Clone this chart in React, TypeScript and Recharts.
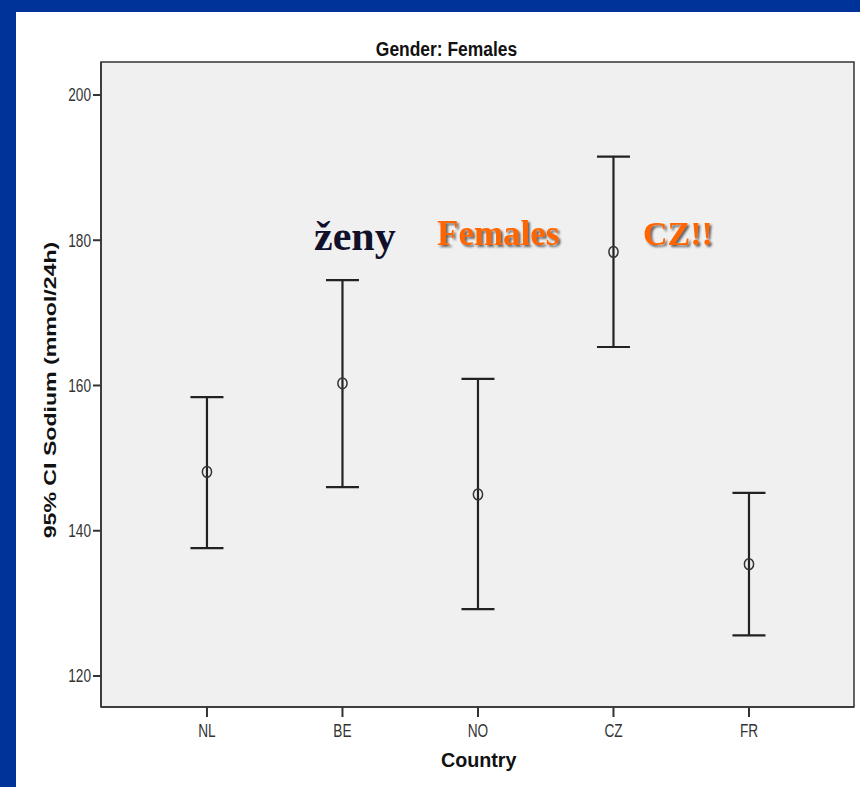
import React from 'react'
import {
  ComposedChart,
  Scatter,
  ErrorBar,
  XAxis,
  YAxis,
  ReferenceArea,
} from 'recharts'

const COUNTRIES = ['NL', 'BE', 'NO', 'CZ', 'FR']
const MEAN = [148.1, 160.3, 145.0, 178.4, 135.4]
const LOWER = [137.6, 146.0, 129.2, 165.3, 125.6]
const UPPER = [158.4, 174.5, 160.9, 191.5, 145.2]
const Y_TICKS = [120, 140, 160, 180, 200]

const X_DOMAIN: [number, number] = [-0.782, 4.775]
const Y_DOMAIN: [number, number] = [115.73, 204.54]

const data = COUNTRIES.map((name, i) => ({
  x: i,
  name,
  mean: MEAN[i],
  err: [MEAN[i] - LOWER[i], UPPER[i] - MEAN[i]],
}))

const SANS = '"Liberation Sans", Arial, sans-serif'
const SERIF = '"Liberation Serif", "Times New Roman", serif'

function YTick({ x, y, payload }: any) {
  return (
    <g transform={`translate(${x},${y})`}>
      <text
        x={0}
        y={0}
        dy={6.4}
        textAnchor="end"
        transform="scale(0.78,1)"
        fontFamily={SANS}
        fontSize={17.5}
        fill="#333"
      >
        {payload.value}
      </text>
    </g>
  )
}

function XTick({ x, y, payload }: any) {
  return (
    <g transform={`translate(${x},${y})`}>
      <text
        x={0}
        y={0}
        dy={17.7}
        textAnchor="middle"
        transform="scale(0.78,1)"
        fontFamily={SANS}
        fontSize={17.5}
        fill="#333"
      >
        {COUNTRIES[payload.value] ?? ''}
      </text>
    </g>
  )
}

function MeanDot({ cx, cy }: any) {
  return <ellipse cx={cx} cy={cy} rx={4.6} ry={5.4} fill="none" stroke="#333" strokeWidth={1.5} />
}

export default function App() {
  return (
    <div
      style={{
        position: 'absolute',
        left: 0,
        top: 0,
        width: 860,
        height: 787,
        background: '#003399',
        overflow: 'hidden',
      }}
    >
      <div
        style={{
          position: 'absolute',
          left: 16,
          top: 12,
          width: 844,
          height: 775,
          background: '#ffffff',
        }}
      />
      <div style={{ position: 'absolute', left: 0, top: 0 }}>
        <ComposedChart
          width={860}
          height={787}
          data={data}
          margin={{ top: 62, right: 6, bottom: 20, left: 16 }}
        >
          <ReferenceArea
            x1={X_DOMAIN[0]}
            x2={X_DOMAIN[1]}
            y1={Y_DOMAIN[0]}
            y2={Y_DOMAIN[1]}
            fill="#f0f0f0"
            fillOpacity={1}
            stroke="#333"
            strokeWidth={1.5}
            ifOverflow="extendDomain"
          />
          <XAxis
            dataKey="x"
            type="number"
            domain={X_DOMAIN}
            allowDataOverflow
            ticks={[0, 1, 2, 3, 4]}
            tick={<XTick />}
            tickSize={10}
            tickLine={{ stroke: '#333', strokeWidth: 2 }}
            axisLine={{ stroke: '#333', strokeWidth: 1.5 }}
            height={60}
            interval={0}
          />
          <YAxis
            type="number"
            domain={Y_DOMAIN}
            allowDataOverflow
            ticks={Y_TICKS}
            tick={<YTick />}
            tickSize={8}
            tickLine={{ stroke: '#333', strokeWidth: 2 }}
            axisLine={{ stroke: '#333', strokeWidth: 1.5 }}
            width={85}
            interval={0}
          />
          <Scatter dataKey="mean" shape={<MeanDot />} isAnimationActive={false}>
            <ErrorBar
              dataKey="err"
              direction="y"
              width={16.5}
              stroke="#222"
              strokeWidth={2.2}
              isAnimationActive={false}
            />
          </Scatter>
        </ComposedChart>
      </div>
      <svg
        width={860}
        height={787}
        style={{ position: 'absolute', left: 0, top: 0, pointerEvents: 'none' }}
      >
        <defs>
          <filter id="shadow" x="-10%" y="-20%" width="130%" height="150%">
            <feDropShadow dx="2" dy="2" stdDeviation="1" floodColor="#333" floodOpacity="0.75" />
          </filter>
        </defs>
        <text
          transform="translate(446.5,56) scale(0.83,1)"
          textAnchor="middle"
          fontFamily={SANS}
          fontWeight="bold"
          fontSize={21}
          fill="#111"
        >
          Gender: Females
        </text>
        <text
          transform="translate(478.7,767) scale(0.94,1)"
          textAnchor="middle"
          fontFamily={SANS}
          fontWeight="bold"
          fontSize={21}
          fill="#111"
        >
          Country
        </text>
        <text
          transform="translate(56,390) rotate(-90) scale(1.36,1)"
          textAnchor="middle"
          fontFamily={SANS}
          fontWeight="bold"
          fontSize={17}
          fill="#111"
        >
          95% CI Sodium (mmol/24h)
        </text>
        <text x={314} y={250} fontFamily={SERIF} fontWeight="bold" fontSize={42} fill="#10102a">
          ženy
        </text>
        <text
          x={437}
          y={245}
          fontFamily={SERIF}
          fontWeight="bold"
          fontSize={35}
          fill="#ff6600"
          filter="url(#shadow)"
        >
          Females
        </text>
        <text
          x={643}
          y={245}
          fontFamily={SERIF}
          fontWeight="bold"
          fontSize={34}
          fill="#ff6600"
          filter="url(#shadow)"
        >
          CZ!!
        </text>
      </svg>
    </div>
  )
}
